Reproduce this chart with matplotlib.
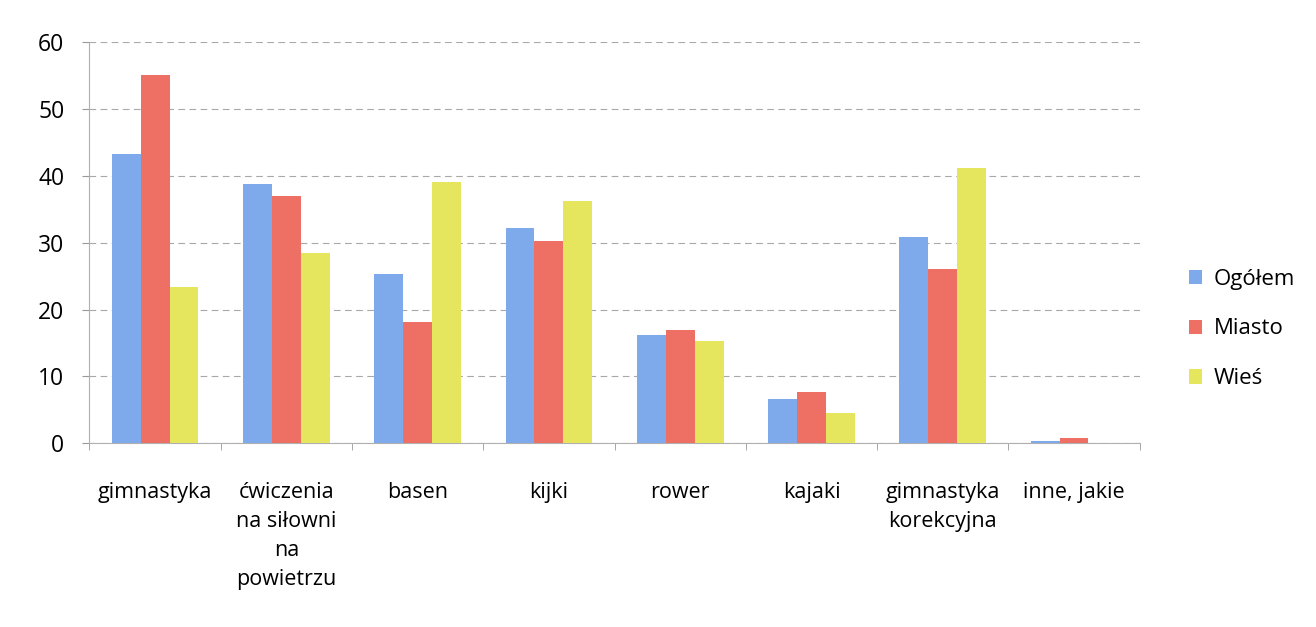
import numpy as np
import matplotlib
matplotlib.use("Agg")
from matplotlib import pyplot as plt

# dane
kategorie = ["gimnastyka", "ćwiczenia\nna siłowni\nna\npowietrzu", "basen", "kijki",
             "rower", "kajaki", "gimnastyka\nkorekcyjna", "inne, jakie"]
ogolem = [43.2, 38.7, 25.3, 32.2, 16.2, 6.6, 30.9, 0.4]
miasto = [55.0, 37.0, 18.2, 30.2, 16.9, 7.6, 26.1, 0.8]
wies = [23.3, 28.4, 39.1, 36.3, 15.3, 4.6, 41.2, 0.0]
serie = ["Ogółem", "Miasto", "Wieś"]
kolory = ["#7ea9ea", "#ee7064", "#e6e65e"]

plt.rcParams['font.family'] = ['Open Sans', 'DejaVu Sans']

fig = plt.figure(figsize=(13.16, 6.27), dpi=100)
ax = fig.add_axes([0.068, 0.293, 0.798, 0.64])

x = np.arange(len(kategorie))
w = 0.22
for i, (dane, nazwa, kol) in enumerate(zip([ogolem, miasto, wies], serie, kolory)):
    ax.bar(x + (i - 1) * w, dane, w, color=kol, label=nazwa, zorder=3)

ax.set_xlim(-0.5, len(kategorie) - 0.5)
ax.set_ylim(0, 60)
ax.set_yticks(range(0, 61, 10))
ax.yaxis.grid(True, color="#a8a8a8", linestyle=(0, (6, 4)), linewidth=0.8, zorder=0)

# etykiety kategorii
ax.set_xticks(x)
ax.set_xticklabels(kategorie, fontsize=15.5, linespacing=1.5)
ax.tick_params(axis='x', length=0, pad=28)
ax.set_xticks(np.arange(-0.5, len(kategorie)), minor=True)
ax.tick_params(axis='x', which='minor', length=5, color="#999999")
ax.tick_params(axis='y', labelsize=16.5, length=5, color="#999999", pad=13)

for s in ["top", "right"]:
    ax.spines[s].set_visible(False)
for s in ["left", "bottom"]:
    ax.spines[s].set_color("#b0b0b0")
    ax.spines[s].set_linewidth(0.8)

ax.legend(loc="center left", bbox_to_anchor=(1.028, 0.285), frameon=False,
          fontsize=16, handlelength=0.6, handleheight=0.6, labelspacing=1.3,
          handletextpad=0.5)

fig.savefig("out.png", dpi=100)
